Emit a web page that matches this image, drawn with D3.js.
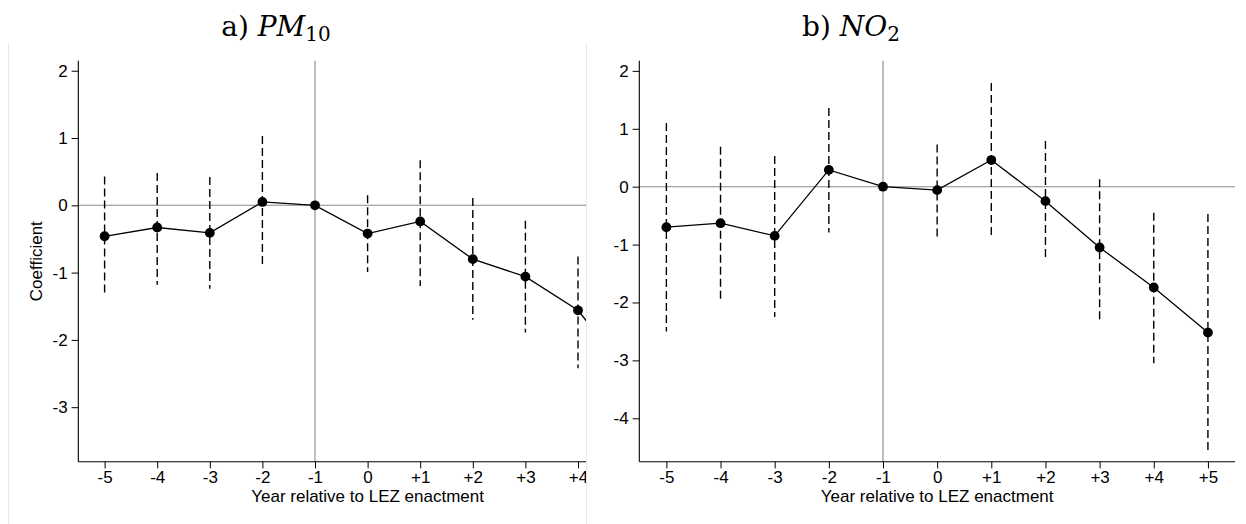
<!DOCTYPE html>
<html>
<head>
<meta charset="utf-8">
<script src="https://cdn.jsdelivr.net/npm/d3@7/dist/d3.min.js"></script>
<style>
  html, body { margin: 0; padding: 0; background: #fff; }
  svg { display: block; }
  .tick text { font-family: "Liberation Sans", Arial, sans-serif; }
</style>
</head>
<body>
<svg id="chart" width="1246" height="524"></svg>
<script>
// Event-study periods relative to the year of LEZ enactment (-1 is the omitted base year)
const periods = ["-5", "-4", "-3", "-2", "-1", "0", "+1", "+2", "+3", "+4", "+5"];
const periodValues = [-5, -4, -3, -2, -1, 0, 1, 2, 3, 4, 5];

// a) PM10 coefficients and 95% confidence bounds
const pmCoef = [-0.46, -0.33, -0.41, 0.05, 0, -0.42, -0.24, -0.80, -1.06, -1.56, -2.55];
const pmLow  = [-1.35, -1.18, -1.24, -0.93, null, -0.99, -1.20, -1.70, -1.89, -2.42, null];
const pmHigh = [0.43, 0.48, 0.42, 1.03, null, 0.15, 0.67, 0.11, -0.23, -0.76, null];

// b) NO2 coefficients and 95% confidence bounds
const no2Coef = [-0.70, -0.63, -0.85, 0.29, 0, -0.06, 0.46, -0.25, -1.05, -1.74, -2.52];
const no2Low  = [-2.50, -1.99, -2.25, -0.79, null, -0.86, -0.86, -1.28, -2.30, -3.05, -4.58];
const no2High = [1.10, 0.69, 0.53, 1.36, null, 0.73, 1.79, 0.79, 0.13, -0.45, -0.47];

const pmTicks = [2, 1, 0, -1, -2, -3];
const no2Ticks = [2, 1, 0, -1, -2, -3, -4];

const svg = d3.select("#chart");
const FONT = '"Liberation Sans", Arial, sans-serif';
const SERIF = '"DejaVu Serif", "Liberation Serif", serif';
const LABEL_SIZE = 17;

function panel(cfg) {
  const g = svg.append("g");
  if (cfg.clipRight) {
    const id = "clip-" + cfg.key;
    svg.append("clipPath").attr("id", id)
      .append("rect").attr("x", 0).attr("y", 0)
      .attr("width", cfg.clipRight).attr("height", 524);
    g.attr("clip-path", `url(#${id})`);
  }

  const x = d3.scaleLinear().domain([-5.5, 5.5]).range(cfg.xRange);
  const y = d3.scaleLinear().domain(cfg.yDomain).range([461.7, 60.7]);
  const [x0, x1] = cfg.xRange;

  // reference lines at zero effect and at the base year
  g.append("line").attr("x1", x0).attr("x2", x1)
    .attr("y1", y(0)).attr("y2", y(0))
    .attr("stroke", "#8a8a8a").attr("stroke-width", 1.1);
  g.append("line").attr("x1", x(-1)).attr("x2", x(-1))
    .attr("y1", y.range()[1]).attr("y2", y.range()[0])
    .attr("stroke", "#8a8a8a").attr("stroke-width", 1.1);

  // y axis
  const yAxis = g.append("g").attr("transform", `translate(${x0},0)`)
    .call(d3.axisLeft(y).tickValues(cfg.yTicks).tickSize(6.7).tickPadding(4)
      .tickFormat(d3.format("d")));
  yAxis.select(".domain").attr("d", `M0,${y.range()[1]}V${y.range()[0]}`)
    .attr("stroke", "#000").attr("stroke-width", 1.1);
  yAxis.selectAll(".tick line").attr("stroke", "#000").attr("stroke-width", 1);
  yAxis.selectAll(".tick text").attr("font-size", LABEL_SIZE).attr("fill", "#000")
    .text(d => d < 0 ? "-" + Math.abs(d) : d);

  // x axis
  const xAxis = g.append("g").attr("transform", `translate(0,${y.range()[0]})`)
    .call(d3.axisBottom(x).tickValues(periodValues).tickSize(6.7).tickPadding(3)
      .tickFormat((d, i) => periods[i]));
  xAxis.select(".domain").attr("d", `M${x0},0H${x1}`)
    .attr("stroke", "#000").attr("stroke-width", 1.1);
  xAxis.selectAll(".tick line").attr("stroke", "#000").attr("stroke-width", 1);
  xAxis.selectAll(".tick text").attr("font-size", LABEL_SIZE).attr("fill", "#000");

  g.append("text")
    .attr("x", x(0)).attr("y", 502)
    .attr("text-anchor", "middle")
    .attr("font-family", FONT).attr("font-size", LABEL_SIZE)
    .text("Year relative to LEZ enactment");

  if (cfg.yTitle) {
    g.append("text")
      .attr("transform", `translate(41.5,${(y.range()[0] + y.range()[1]) / 2}) rotate(-90)`)
      .attr("text-anchor", "middle")
      .attr("font-family", FONT).attr("font-size", LABEL_SIZE)
      .text(cfg.yTitle);
  }

  const rows = periodValues.map((p, i) => ({
    p, c: cfg.coef[i], lo: cfg.low[i], hi: cfg.high[i]
  }));

  // confidence intervals
  g.append("g").selectAll("line")
    .data(rows.filter(d => d.lo !== null && d.hi !== null))
    .join("line")
    .attr("x1", d => x(d.p)).attr("x2", d => x(d.p))
    .attr("y1", d => y(d.hi)).attr("y2", d => y(d.lo))
    .attr("stroke", "#000").attr("stroke-width", 1.4)
    .attr("stroke-dasharray", "8,4");

  // point estimates joined by a line
  g.append("path").datum(rows)
    .attr("d", d3.line().x(d => x(d.p)).y(d => y(d.c)))
    .attr("fill", "none").attr("stroke", "#000").attr("stroke-width", 1.3);
  g.append("g").selectAll("circle").data(rows).join("circle")
    .attr("cx", d => x(d.p)).attr("cy", d => y(d.c)).attr("r", 4.9)
    .attr("fill", "#000");

  // panel title
  const t = svg.append("text")
    .attr("x", cfg.titleX).attr("y", 36)
    .attr("text-anchor", "middle")
    .attr("font-family", SERIF).attr("font-size", 28).attr("fill", "#000");
  t.append("tspan").text(cfg.titleLabel + " ");
  t.append("tspan").attr("font-style", "italic").text(cfg.titleMain);
  t.append("tspan").attr("font-size", 20).attr("dy", 5).text(cfg.titleSub);
}

// faint outline of the left graph region
const frame = svg.append("g").attr("stroke", "#e2ecee").attr("stroke-width", 1);
frame.append("line").attr("x1", 8.5).attr("x2", 8.5).attr("y1", 43).attr("y2", 524);
frame.append("line").attr("x1", 586.5).attr("x2", 586.5).attr("y1", 43).attr("y2", 524);

panel({
  key: "pm", xRange: [78.3, 656.9], yDomain: [-3.81, 2.149],
  yTicks: pmTicks, coef: pmCoef, low: pmLow, high: pmHigh,
  yTitle: "Coefficient", clipRight: 586,
  titleX: 276, titleLabel: "a)", titleMain: "PM", titleSub: "10"
});

panel({
  key: "no2", xRange: [639.3, 1235], yDomain: [-4.75, 2.176],
  yTicks: no2Ticks, coef: no2Coef, low: no2Low, high: no2High,
  yTitle: null, clipRight: null,
  titleX: 851, titleLabel: "b)", titleMain: "NO", titleSub: "2"
});
</script>
</body>
</html>
